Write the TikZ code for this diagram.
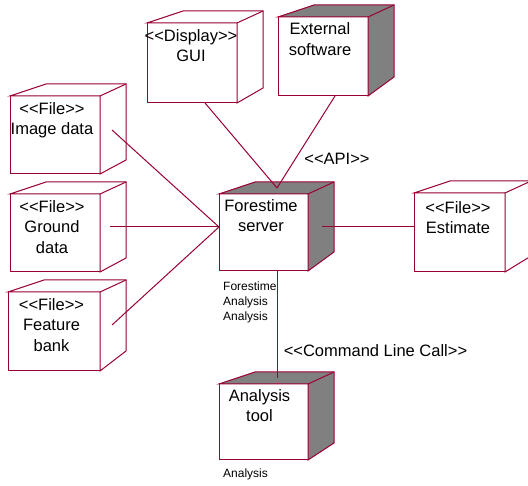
\documentclass[tikz,border=0pt]{standalone}
\usepackage{fontspec}
\setmainfont{Liberation Sans}[Ligatures=TeXOff]
\usetikzlibrary{calc}
\definecolor{edgec}{RGB}{153,0,51}
\definecolor{shade}{RGB}{128,128,128}
\tikzset{
  edge/.style={draw=edgec, line width=1pt, line join=miter},
  box/.style={edge, fill=white, rectangle, inner sep=0pt, outer sep=0pt, anchor=north west},
  lbl/.style={font=\fontsize{16.5}{20.5}\selectfont, inner sep=0pt, align=center, anchor=north},
  tag/.style={font=\fontsize{16.5}{20.5}\selectfont, inner sep=0pt, anchor=base},
  small/.style={font=\fontsize{12}{15}\selectfont, inner sep=0pt, align=left},
  conn/.style={draw=edgec, line width=1pt}
}
\newcommand\cubeback[3]{%
  \draw[edge, fill=#2] (#1.north west) -- ++(36,-12) -- ($(#1.north east)+(26,-12)$)
    -- ($(#1.south east)+(26,-#3)$) -- (#1.south east) -- (#1.north east) -- cycle;
  \draw[edge] (#1.north east) -- ($(#1.north east)+(26,-12)$);
}
\begin{document}
\begin{tikzpicture}[x=1pt,y=-1pt]
\useasboundingbox (0,0) rectangle (528,486);

% boxes
\node[box, minimum width=90pt, minimum height=80pt] (gui) at (147,23) {};
\cubeback{gui}{white}{15}
\node[box, minimum width=90pt, minimum height=79pt] (ext) at (278,17) {};
\cubeback{ext}{shade}{19}
\node[box, minimum width=90pt, minimum height=78pt] (img) at (10,96) {};
\cubeback{img}{white}{14}
\node[box, minimum width=90pt, minimum height=78pt] (grd) at (10,194) {};
\cubeback{grd}{white}{14}
\node[box, minimum width=92pt, minimum height=79pt] (feat) at (8,292) {};
\cubeback{feat}{white}{20}
\node[box, minimum width=89pt, minimum height=77pt] (fs) at (219,194) {};
\cubeback{fs}{shade}{19}
\node[box, minimum width=91pt, minimum height=79pt] (est) at (414,193) {};
\cubeback{est}{white}{16}
\node[box, minimum width=89pt, minimum height=76pt] (tool) at (219,384) {};
\cubeback{tool}{shade}{17}

% box texts
\node[lbl] (guit) at (191,29.2) {<<Display>>\\GUI};
\node[lbl] (extt) at (320,22.7) {External\\software};
\node[lbl] (fst) at (261,199.2) {Forestime\\server};
\node[lbl] (toolt) at (259.5,389.2) {Analysis\\tool};
\node[lbl] (imgt) at (52,102.2) {<<File>>\\Image data};
\node[lbl] (grdt) at (52,200) {<<File>>\\Ground\\data};
\node[lbl] (featt) at (51.5,298.2) {<<File>>\\Feature\\bank};
\node[lbl] (estt) at (458,201.2) {<<File>>\\Estimate};

% connector end points
\coordinate (fsTop) at (277,188);
\coordinate (fsLeft) at (219,227);
\coordinate (fsRight) at (322,227);
\coordinate (fsBot) at (277,271);
\coordinate (toolTop) at (277,378);
\coordinate (guiEnd) at (205,103);
\coordinate (extEnd) at (335,96);
\coordinate (imgEnd) at (112,130);
\coordinate (grdEnd) at (110,227);
\coordinate (featEnd) at (112,325);
\coordinate (estEnd) at (414,227);

% connectors
\draw[conn] (guiEnd) -- (fsTop);
\draw[conn] (extEnd) -- (fsTop);
\draw[conn] (imgEnd) -- (fsLeft);
\draw[conn] (grdEnd) -- (fsLeft);
\draw[conn] (featEnd) -- (fsLeft);
\draw[conn] (fsRight) -- (estEnd);
\draw[conn] (fsBot) -- (toolTop);

% labels
\node[tag] (api) at (337,165) {<<API>>};
\node[tag] (cmd) at (375.5,357) {<<Command Line Call>>};
\node[small, anchor=north west] (fsnote) at (223,281.4) {Forestime\\Analysis\\Analysis};
\node[small, anchor=base west] (toolnote) at (223,478) {Analysis};
\end{tikzpicture}
\end{document}
